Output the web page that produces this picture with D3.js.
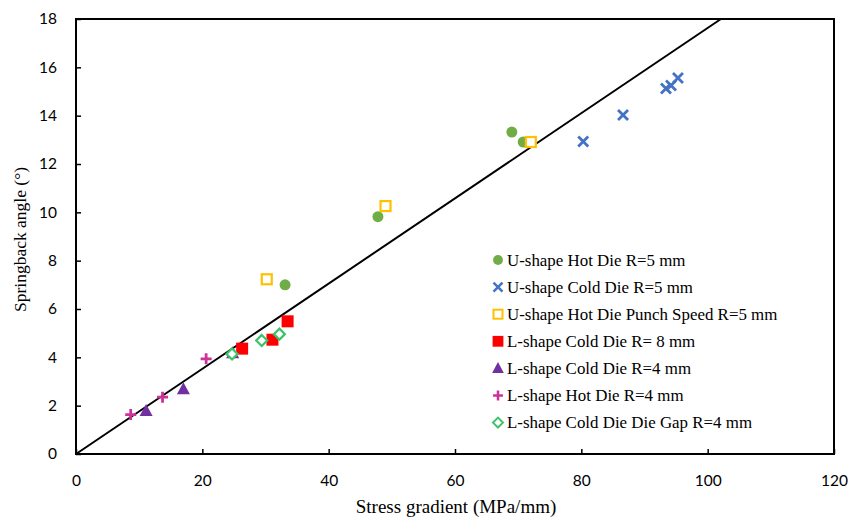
<!DOCTYPE html>
<html>
<head>
<meta charset="utf-8">
<script src="https://cdn.jsdelivr.net/npm/d3@7/dist/d3.min.js"></script>
<style>
  body { margin: 0; background: #fff; }
  .tick text { font-family: Lato, "Liberation Sans", sans-serif; font-size: 15.5px; fill: #000; }
</style>
</head>
<body>
<div id="chart-area"></div>
<script>
const MARGIN = { LEFT: 76, RIGHT: 27, TOP: 19, BOTTOM: 63 }
const WIDTH = 861 - MARGIN.LEFT - MARGIN.RIGHT
const HEIGHT = 517 - MARGIN.TOP - MARGIN.BOTTOM

// series as [stress gradient, springback angle]
const uHotR5 = [[33.1, 7.0], [47.8, 9.82], [69.0, 13.32], [70.8, 12.91]]
const uColdR5 = [[80.3, 12.93], [86.6, 14.03], [93.4, 15.12], [94.2, 15.25], [95.3, 15.56]]
const uHotSpeedR5 = [[30.2, 7.23], [49.0, 10.26], [72.0, 12.91]]
const lColdR8 = [[26.3, 4.36], [31.1, 4.73], [33.5, 5.49]]
const lColdR4 = [[11.1, 1.78], [17.0, 2.68], [24.8, 4.17]]
const lHotR4 = [[8.66, 1.63], [13.7, 2.35], [20.6, 3.94]]
const lColdGapR4 = [[24.7, 4.14], [29.4, 4.7], [32.2, 4.96]]

const seriesNames = [
  "U-shape Hot Die R=5 mm",
  "U-shape Cold Die R=5 mm",
  "U-shape Hot Die Punch Speed R=5 mm",
  "L-shape Cold Die R= 8 mm",
  "L-shape Cold Die R=4 mm",
  "L-shape Hot Die R=4 mm",
  "L-shape Cold Die Die Gap R=4 mm"
]
const seriesData = [uHotR5, uColdR5, uHotSpeedR5, lColdR8, lColdR4, lHotR4, lColdGapR4]
const seriesColors = ["#70AD47", "#4472C4", "#FFC000", "#FF0000", "#7030A0", "#CC3399", "#3CC36A"]
const seriesShapes = ["circle", "cross", "openSquare", "square", "triangle", "plus", "openDiamond"]

const xTicks = [0, 20, 40, 60, 80, 100, 120]
const yTicks = [0, 2, 4, 6, 8, 10, 12, 14, 16, 18]
const fitSlope = 0.1763 // trend line through origin

const svg = d3.select("#chart-area").append("svg")
  .attr("width", 861)
  .attr("height", 517)

const g = svg.append("g")
  .attr("transform", `translate(${MARGIN.LEFT}, ${MARGIN.TOP})`)

const xScale = d3.scaleLinear().domain([0, 120]).range([0, WIDTH])
const yScale = d3.scaleLinear().domain([0, 18]).range([HEIGHT, 0])

// axes, ticks pointing inward
const xAxis = d3.axisBottom(xScale).tickValues(xTicks).tickSize(-5).tickPadding(21)
const yAxis = d3.axisLeft(yScale).tickValues(yTicks).tickSize(-5).tickPadding(19)

g.append("g").attr("transform", `translate(0, ${HEIGHT})`).call(xAxis)
g.append("g").call(yAxis)
g.selectAll(".domain").remove()
g.selectAll(".tick line").attr("stroke", "#000").attr("stroke-width", 1.5)

g.append("rect")
  .attr("width", WIDTH)
  .attr("height", HEIGHT)
  .attr("fill", "none")
  .attr("stroke", "#000")
  .attr("stroke-width", 2)

// axis labels
g.append("text")
  .attr("x", WIDTH / 2 + 1)
  .attr("y", HEIGHT + 59)
  .attr("text-anchor", "middle")
  .attr("font-family", "'Liberation Serif', serif")
  .attr("font-size", "19px")
  .text("Stress gradient (MPa/mm)")
g.append("text")
  .attr("x", -(HEIGHT / 2) - 3)
  .attr("y", -50)
  .attr("text-anchor", "middle")
  .attr("transform", "rotate(-90)")
  .attr("font-family", "'Liberation Serif', serif")
  .attr("font-size", "17.5px")
  .text("Springback angle (°)")

// trend line, stops at top of plot
const fitLine = [[0, 0], [18 / fitSlope, 18]]
g.append("path")
  .datum(fitLine)
  .attr("fill", "none")
  .attr("stroke", "#000")
  .attr("stroke-width", 2)
  .attr("d", d3.line().x(d => xScale(d[0])).y(d => yScale(d[1])))

function drawMarker(sel, shape, color) {
  if (shape === "circle") {
    sel.append("circle").attr("r", 5.5).attr("fill", color)
  } else if (shape === "cross") {
    sel.append("path").attr("d", "M-5,-5L5,5M-5,5L5,-5")
      .attr("stroke", color).attr("stroke-width", 2.8).attr("fill", "none")
  } else if (shape === "openSquare") {
    sel.append("rect").attr("x", -5).attr("y", -5).attr("width", 10).attr("height", 10)
      .attr("fill", "#fff").attr("stroke", color).attr("stroke-width", 2.2)
  } else if (shape === "square") {
    sel.append("rect").attr("x", -6).attr("y", -6).attr("width", 12).attr("height", 12)
      .attr("fill", color)
  } else if (shape === "triangle") {
    sel.append("path").attr("d", "M0,-7L6.5,5L-6.5,5Z").attr("fill", color)
  } else if (shape === "plus") {
    sel.append("path").attr("d", "M-5.5,0L5.5,0M0,-5.5L0,5.5")
      .attr("stroke", color).attr("stroke-width", 2.8).attr("fill", "none")
  } else if (shape === "openDiamond") {
    sel.append("path").attr("d", "M0,-5.5L5.5,0L0,5.5L-5.5,0Z")
      .attr("fill", "#fff").attr("stroke", color).attr("stroke-width", 2.2)
  }
}

seriesData.forEach((data, i) => {
  g.append("g").selectAll("g")
    .data(data)
    .enter().append("g")
    .attr("transform", d => `translate(${xScale(d[0])}, ${yScale(d[1])})`)
    .each(function() { drawMarker(d3.select(this), seriesShapes[i], seriesColors[i]) })
})

// legend
const legend = g.append("g").attr("transform", `translate(${498 - MARGIN.LEFT}, ${260 - MARGIN.TOP})`)
seriesNames.forEach((name, i) => {
  const row = legend.append("g").attr("transform", `translate(0, ${i * 27.1})`)
  drawMarker(row.append("g").attr("transform", "scale(0.9)"), seriesShapes[i], seriesColors[i])
  row.append("text")
    .attr("x", 9)
    .attr("y", 0)
    .attr("dy", "0.33em")
    .attr("font-family", "'Liberation Serif', serif")
    .attr("font-size", "16.9px")
    .text(name)
})
</script>
</body>
</html>
